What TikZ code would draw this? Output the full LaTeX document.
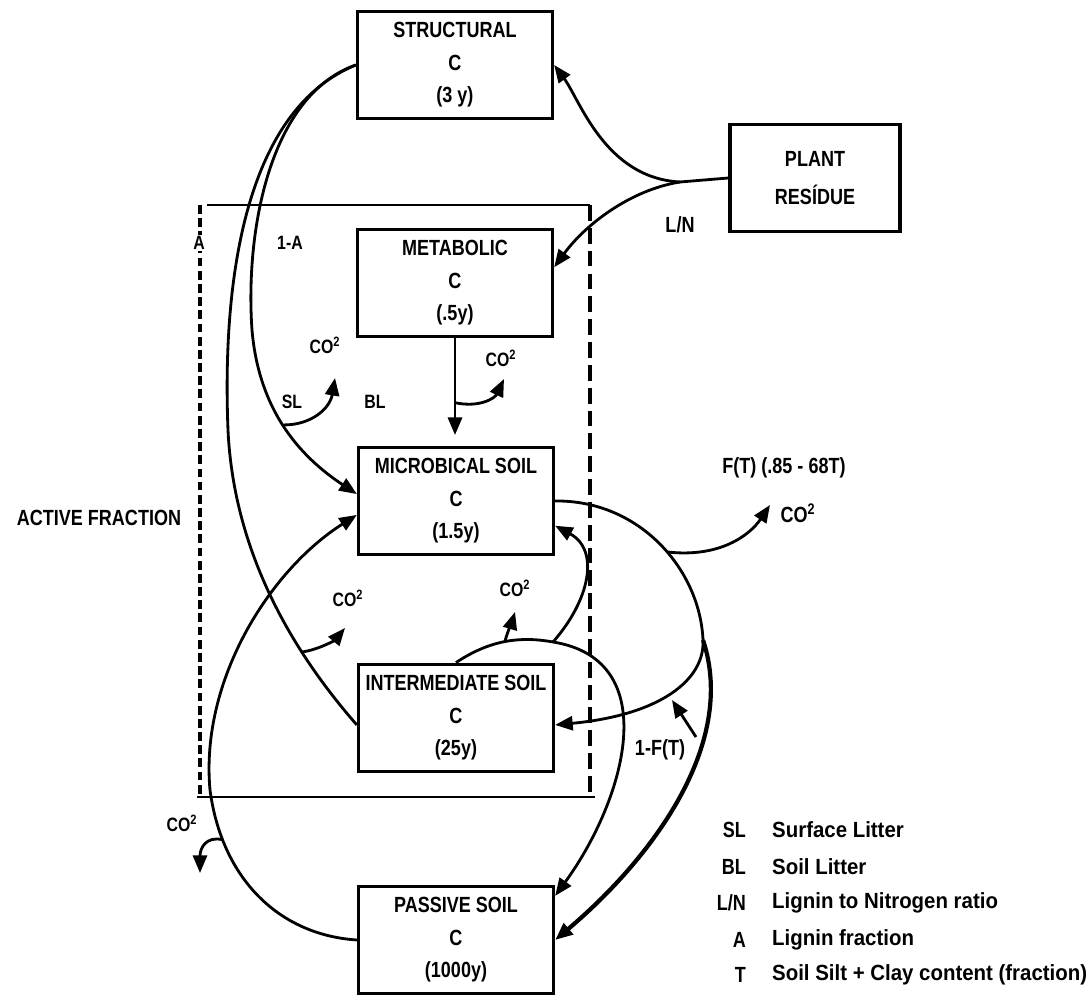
\documentclass[tikz,border=0pt]{standalone}
\usepackage{fontspec}
\setmainfont{Liberation Sans}[FakeStretch=0.82]
\newfontfamily\legendfont{Liberation Sans}[FakeStretch=0.93]
\usetikzlibrary{arrows.meta}

\begin{document}
\begin{tikzpicture}[x=0.02cm, y=-0.02cm,
    font=\bfseries\fontsize{12.5}{18.5}\selectfont,
    pool/.style={draw, line width=1.9pt, align=center, minimum width=3.9cm, minimum height=2.15cm, inner sep=2pt},
    link/.style={line width=1.6pt},
    flow/.style={line width=1.6pt, -{Triangle[length=10pt,width=8pt]}},
    lbl/.style={font=\bfseries\fontsize{11}{13}\selectfont, inner sep=1pt}]
    \useasboundingbox (0,0) rectangle (1090,999);

    % pools
    \node[pool] (struct) at (455,65) {STRUCTURAL\\C\\(3 y)};
    \node[pool, minimum width=3.4cm] (plant) at (815,178) {PLANT\\[3pt]RESÍDUE};
    \node[pool] (metab) at (455,283) {METABOLIC\\C\\(.5y)};
    \node[pool] (micro) at (456,501) {MICROBICAL SOIL\\C\\(1.5y)};
    \node[pool] (inter) at (456,718) {INTERMEDIATE SOIL\\C\\(25y)};
    \node[pool] (passive) at (456,940) {PASSIVE SOIL\\C\\(1000y)};

    % active fraction frame
    \draw[line width=1.1pt] (207,205) -- (590,205);
    \draw[line width=1.2pt] (197,797) -- (595,797);
    \draw[line width=2.6pt, dash pattern=on 5pt off 2.5pt] (200,205) -- (200,797);
    \draw[line width=2pt, dash pattern=on 9pt off 4pt] (590,205) -- (590,797);
    \node[lbl, fill=white] (alab) at (199,243) {A};
    \node (active) at (99,518) {ACTIVE FRACTION};

    \node[lbl] (onea) at (290,243) {1-A};
    \node[lbl] (sl) at (292,402) {SL};
    \node[lbl] (bl) at (375,402) {BL};
    \node (ln) at (680,225) {L/N};
    \node (ft) at (784,468) {F(T) (.85 - 68T)};
    \node (oneft) at (660,750) {1-F(T)};
    \foreach \n/\x/\y in {co2sl/325/345,co2met/501/358,co2a/348/598,co2i/515/588,co2p/182/823}
      \node[lbl] (\n) at (\x,\y) {CO\textsuperscript{2}};
    \node (co2f) at (798,513) {CO\textsuperscript{2}};

    % arrow ends
    \coordinate (slend) at (335,378);
    \coordinate (metend) at (504,379);
    \coordinate (aend) at (345,628);
    \coordinate (iend) at (515,612);
    \coordinate (pend) at (200,873);
    \coordinate (fend) at (770,505);
    \coordinate (ftail) at (696,737);
    \coordinate (fhead) at (672,700);

    % plant residue
    \coordinate (split) at (680,182);
    \draw[link] (plant.west) -- (split);
    \draw[flow] (split) .. controls (605,178) and (580,100) .. (struct.east);
    \draw[flow] (split) .. controls (630,190) and (585,225) .. (metab.9);

    % structural
    \draw[flow] (struct.west) .. controls (270,95) and (245,230) .. (252,330)
      .. controls (258,400) and (290,450) .. (micro.176) coordinate[pos=0.52] (sljn);
    \draw[flow] (sljn) .. controls (312,425) and (330,408) .. (slend);
    \draw[link] (struct.west) .. controls (245,110) and (222,280) .. (228,430)
      .. controls (234,560) and (300,660) .. (inter.184) coordinate[pos=0.68] (ajn);
    \draw[flow] (ajn) .. controls (318,650) and (335,640) .. (aend);

    % metabolic
    \draw[flow, shorten >=6pt] (metab.south) -- (metab.south |- micro.north) coordinate[pos=0.6] (bljn);
    \draw[flow] (bljn) .. controls (480,408) and (495,398) .. (metend);

    % passive
    \draw[flow] (passive.west) .. controls (280,935) and (222,880) .. (210,790) coordinate[pos=0.8] (pjn)
      .. controls (200,680) and (270,570) .. (micro.188);
    \draw[flow] (pjn) .. controls (206,836) and (200,848) .. (pend);

    % intermediate
    \coordinate (ijn) at (553,642);
    \draw[flow] (inter.north) .. controls (490,640) and (520,636) .. (ijn) coordinate[pos=0.5] (ijn2)
      .. controls (665,660) and (625,800) .. (passive.24);
    \draw[flow] (ijn2) .. controls (508,630) and (512,622) .. (iend);
    \draw[flow] (ijn) .. controls (590,600) and (600,550) .. (micro.346);

    % microbial
    \coordinate (mjn) at (703,640);
    \draw[link] (micro.east) .. controls (640,500) and (700,570) .. (mjn) coordinate[pos=0.55] (fjn);
    \draw[flow, line width=2.4pt] (mjn) .. controls (738,745) and (650,860) .. (passive.east);
    \draw[flow] (mjn) .. controls (705,680) and (660,715) .. (inter.356);
    \draw[flow] (fjn) .. controls (720,558) and (750,535) .. (fend);
    \draw[flow] (ftail) -- (fhead);

    % legend
    \foreach \y/\ab/\txt in {830/SL/Surface Litter,867/BL/Soil Litter,903/{L/N}/Lignin to Nitrogen ratio,
      940/A/Lignin fraction,975/T/Soil Silt + Clay content (fraction)} {
      \node[anchor=east] (ab\y) at (752,\y) {\ab};
      \node[anchor=west, font=\legendfont\bfseries\fontsize{12.5}{15}\selectfont] (tx\y) at (766,\y) {\txt};
    }
  \end{tikzpicture}
\end{document}
